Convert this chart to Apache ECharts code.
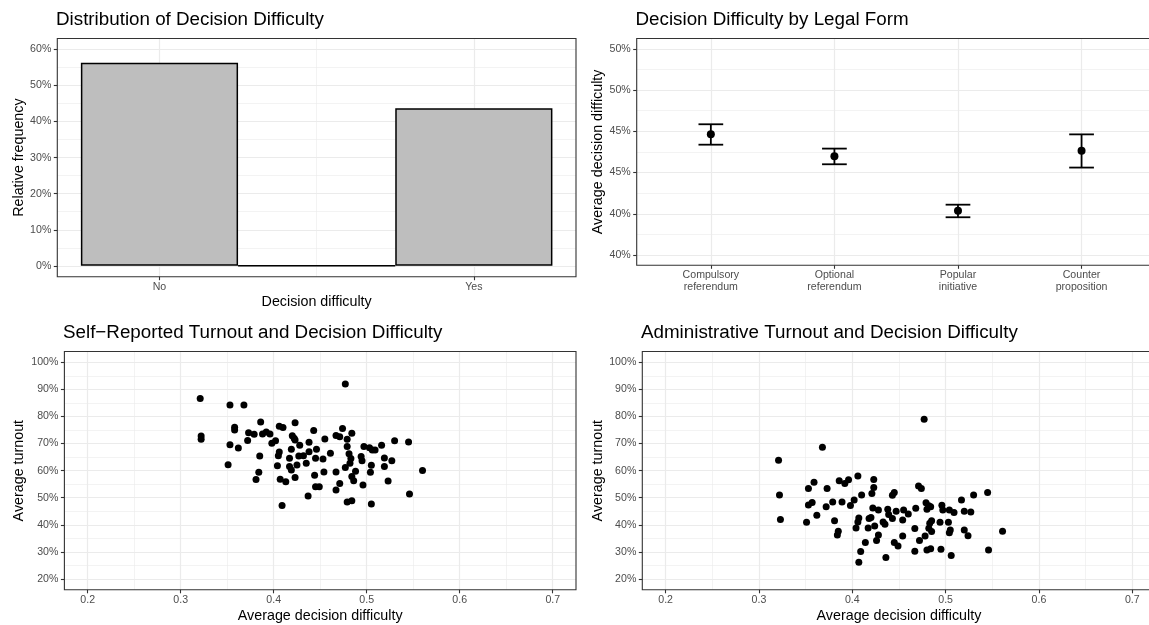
<!DOCTYPE html>
<html><head><meta charset="utf-8">
<script src="https://cdn.jsdelivr.net/npm/echarts@6/dist/echarts.min.js"></script>
<style>html,body{margin:0;padding:0;background:#fff}#c{width:1149px;height:625px}</style>
</head><body><div id="c"></div>
<script>
// ---------- Panel 1: Distribution of decision difficulty ----------
const diffBins = [0, 0.5, 1];
const diffFreq = [0.563, 0, 0.437];
const diffTickVals = [0, 1];
const diffTickLabels = ['No', 'Yes'];
const freqTickVals = [0, 0.1, 0.2, 0.3, 0.4, 0.5, 0.6];
const freqTickLabels = ['0%', '10%', '20%', '30%', '40%', '50%', '60%'];
const freqMinor = [0.05, 0.15, 0.25, 0.35, 0.45, 0.55];
const diffMinor = [0.5];

// ---------- Panel 2: Decision difficulty by legal form ----------
const formCategories = ['Compulsory\nreferendum', 'Optional\nreferendum', 'Popular\ninitiative', 'Counter\nproposition'];
const formMean  = [0.4585, 0.4479, 0.4214, 0.4506];
const formLower = [0.4535, 0.4440, 0.4183, 0.4424];
const formUpper = [0.4634, 0.4516, 0.4244, 0.4585];
const formTickVals = [0.40, 0.42, 0.44, 0.46, 0.48, 0.50];
const formTickLabels = ['40%', '40%', '45%', '45%', '50%', '50%'];
const formMinor = [0.41, 0.43, 0.45, 0.47, 0.49];

// ---------- Panels 3/4: turnout vs difficulty ----------
const selfX = [0.321,0.322,0.322,0.353,0.368,0.477,0.351,0.353,0.358,0.358,0.362,0.373,0.379,0.372,0.386,0.388,0.392,0.396,0.385,0.384,0.381,0.398,0.402,0.406,0.410,0.406,0.405,0.404,0.407,0.413,0.409,0.423,0.420,0.422,0.423,0.419,0.417,0.417,0.419,0.423,0.425,0.427,0.428,0.432,0.435,0.438,0.438,0.443,0.445,0.446,0.444,0.445,0.449,0.437,0.453,0.455,0.454,0.461,0.467,0.471,0.474,0.479,0.479,0.484,0.481,0.483,0.482,0.477,0.467,0.471,0.467,0.479,0.484,0.484,0.486,0.488,0.494,0.495,0.496,0.497,0.503,0.506,0.509,0.505,0.504,0.505,0.516,0.519,0.519,0.527,0.523,0.530,0.545,0.546,0.560];
const selfY = [0.866,0.728,0.716,0.842,0.842,0.920,0.622,0.696,0.760,0.750,0.684,0.740,0.734,0.711,0.780,0.735,0.743,0.735,0.654,0.594,0.567,0.701,0.710,0.764,0.759,0.669,0.655,0.618,0.568,0.559,0.471,0.777,0.729,0.720,0.713,0.679,0.646,0.615,0.602,0.575,0.621,0.654,0.694,0.655,0.627,0.705,0.670,0.748,0.646,0.679,0.583,0.541,0.541,0.506,0.643,0.717,0.595,0.664,0.730,0.725,0.756,0.716,0.689,0.738,0.662,0.645,0.627,0.612,0.595,0.553,0.529,0.484,0.489,0.578,0.563,0.598,0.652,0.637,0.547,0.689,0.685,0.676,0.676,0.620,0.594,0.477,0.694,0.647,0.615,0.637,0.562,0.710,0.706,0.514,0.601];
const adminX = [0.321,0.322,0.323,0.368,0.477,0.353,0.359,0.353,0.357,0.351,0.362,0.373,0.372,0.379,0.381,0.385,0.384,0.386,0.392,0.396,0.389,0.398,0.402,0.406,0.410,0.407,0.406,0.404,0.414,0.409,0.407,0.423,0.423,0.421,0.422,0.428,0.418,0.420,0.417,0.424,0.428,0.426,0.433,0.435,0.438,0.439,0.436,0.443,0.445,0.443,0.447,0.445,0.449,0.454,0.455,0.460,0.454,0.467,0.467,0.468,0.471,0.474,0.472,0.478,0.479,0.480,0.482,0.484,0.482,0.483,0.485,0.485,0.480,0.484,0.494,0.496,0.497,0.495,0.504,0.509,0.503,0.505,0.504,0.506,0.517,0.520,0.527,0.530,0.520,0.524,0.545,0.546,0.561];
const adminY = [0.638,0.510,0.420,0.686,0.790,0.534,0.557,0.473,0.482,0.409,0.435,0.534,0.467,0.484,0.415,0.376,0.362,0.563,0.553,0.566,0.484,0.471,0.492,0.580,0.510,0.425,0.410,0.388,0.335,0.301,0.262,0.567,0.538,0.516,0.462,0.455,0.423,0.427,0.388,0.396,0.362,0.342,0.410,0.402,0.457,0.438,0.279,0.509,0.519,0.423,0.450,0.335,0.322,0.418,0.455,0.440,0.359,0.302,0.386,0.461,0.543,0.534,0.342,0.359,0.481,0.457,0.470,0.467,0.387,0.406,0.415,0.375,0.307,0.312,0.409,0.472,0.455,0.310,0.455,0.445,0.409,0.381,0.371,0.287,0.492,0.450,0.447,0.510,0.381,0.360,0.519,0.307,0.376];
const ddTickVals = [0.2, 0.3, 0.4, 0.5, 0.6, 0.7];
const ddTickLabels = ['0.2', '0.3', '0.4', '0.5', '0.6', '0.7'];
const ddMinor = [0.25, 0.35, 0.45, 0.55, 0.65];
const toTickVals = [0.2, 0.3, 0.4, 0.5, 0.6, 0.7, 0.8, 0.9, 1.0];
const toTickLabels = ['20%', '30%', '40%', '50%', '60%', '70%', '80%', '90%', '100%'];
const toMinor = [0.25, 0.35, 0.45, 0.55, 0.65, 0.75, 0.85, 0.95];

// ---------- styling helpers ----------
const FONT = '"Liberation Sans", Arial, Helvetica, sans-serif';
const TICK_COLOR = '#4D4D4D';
const GRID_COLOR = '#EBEBEB';

function labelFor(vals, labels) {
  return function (v) {
    let best = 0, d = Infinity;
    vals.forEach((t, i) => { const dd = Math.abs(t - v); if (dd < d) { d = dd; best = i; } });
    return labels[best];
  };
}
function makeGrid(left, top, width, height) {
  return { left, top, width, height, show: true, borderColor: '#333333', borderWidth: 1.1,
           backgroundColor: 'transparent', z: 10, containLabel: false, outerBoundsMode: 'none' };
}
function makeAxis(kind, idx, min, max, vals, labels, name, nameGap, extraLabel) {
  return {
    type: 'value', gridIndex: idx, min, max, scale: true,
    position: kind === 'x' ? 'bottom' : 'left',
    axisLine: { show: false, onZero: false },
    splitLine: { show: false },
    axisTick: { show: true, length: 3.5, customValues: vals, lineStyle: { color: '#333333', width: 1.1 } },
    axisLabel: Object.assign({ show: true, customValues: vals, formatter: labelFor(vals, labels),
      color: TICK_COLOR, fontSize: 10.6, fontFamily: FONT, margin: kind === 'x' ? 5 : 6,
      showMinLabel: true, showMaxLabel: true, hideOverlap: false }, extraLabel || {}),
    name, nameLocation: 'middle', nameGap,
    nameTextStyle: { color: '#000', fontSize: 14.3, fontFamily: FONT }
  };
}
function gridSeries(idx, xMajor, xMinor, yMajor, yMinor) {
  const maj = { color: GRID_COLOR, width: 1.2, type: 'solid' };
  const min = { color: GRID_COLOR, width: 0.6, type: 'solid' };
  const data = [];
  xMinor.forEach(v => data.push({ xAxis: v, lineStyle: min }));
  yMinor.forEach(v => data.push({ yAxis: v, lineStyle: min }));
  xMajor.forEach(v => data.push({ xAxis: v, lineStyle: maj }));
  yMajor.forEach(v => data.push({ yAxis: v, lineStyle: maj }));
  return { type: 'scatter', xAxisIndex: idx, yAxisIndex: idx, data: [], silent: true, z: 0,
    markLine: { silent: true, z: 0, symbol: ['none', 'none'], label: { show: false }, animation: false,
      emphasis: { disabled: true }, data } };
}
function title(text, left, top) {
  return { text, left, top, padding: 0,
    textStyle: { fontSize: 18.8, fontWeight: 'normal', color: '#000', fontFamily: FONT } };
}

const formIdx = formCategories.map((c, i) => i);

const option = {
  backgroundColor: '#ffffff',
  animation: false,
  title: [
    title('Distribution of Decision Difficulty', 56, 10),
    title('Decision Difficulty by Legal Form', 635.5, 10),
    title('Self\u2212Reported Turnout and Decision Difficulty', 63, 323),
    title('Administrative Turnout and Decision Difficulty', 641, 323)
  ],
  grid: [
    makeGrid(57.3, 38.5, 518.7, 238.2),
    makeGrid(636.7, 38.5, 519, 226.8),
    makeGrid(64.4, 351.5, 511.6, 238.3),
    makeGrid(642.3, 351.5, 513.3, 238.3)
  ],
  xAxis: [
    makeAxis('x', 0, -0.325, 1.325, diffTickVals, diffTickLabels, 'Decision difficulty', 18),
    makeAxis('x', 1, -0.6, 3.6, formIdx, formCategories, '', 20, { lineHeight: 11.5, margin: 4.5 }),
    makeAxis('x', 2, 0.175, 0.725, ddTickVals, ddTickLabels, 'Average decision difficulty', 19),
    makeAxis('x', 3, 0.175, 0.725, ddTickVals, ddTickLabels, 'Average decision difficulty', 19)
  ],
  yAxis: [
    makeAxis('y', 0, -0.03, 0.63, freqTickVals, freqTickLabels, 'Relative frequency', 31),
    makeAxis('y', 1, 0.395, 0.505, formTickVals, formTickLabels, 'Average decision difficulty', 32),
    makeAxis('y', 2, 0.16, 1.04, toTickVals, toTickLabels, 'Average turnout', 38),
    makeAxis('y', 3, 0.16, 1.04, toTickVals, toTickLabels, 'Average turnout', 37)
  ],
  series: [
    gridSeries(0, diffTickVals, diffMinor, freqTickVals, freqMinor),
    gridSeries(1, formIdx, [], formTickVals, formMinor),
    gridSeries(2, ddTickVals, ddMinor, toTickVals, toMinor),
    gridSeries(3, ddTickVals, ddMinor, toTickVals, toMinor),
    {
      type: 'bar', xAxisIndex: 0, yAxisIndex: 0, z: 3, barWidth: '100%',
      data: diffBins.map((b, i) => [b, diffFreq[i]]),
      itemStyle: { color: '#BEBEBE', borderColor: '#000', borderWidth: 1.5 },
      silent: true
    },
    {
      type: 'custom', xAxisIndex: 1, yAxisIndex: 1, z: 3, silent: true,
      data: formIdx.map(i => [i, formLower[i], formUpper[i]]),
      encode: { x: 0, y: [1, 2] },
      renderItem: function (params, api) {
        const x = api.value(0), lo = api.value(1), hi = api.value(2);
        const pLo = api.coord([x, lo]), pHi = api.coord([x, hi]);
        const half = api.coord([x + 0.1, lo])[0] - pLo[0];
        const st = { stroke: '#000', lineWidth: 1.8, fill: null };
        return { type: 'group', children: [
          { type: 'line', shape: { x1: pLo[0], y1: pLo[1], x2: pHi[0], y2: pHi[1] }, style: st },
          { type: 'line', shape: { x1: pLo[0] - half, y1: pLo[1], x2: pLo[0] + half, y2: pLo[1] }, style: st },
          { type: 'line', shape: { x1: pHi[0] - half, y1: pHi[1], x2: pHi[0] + half, y2: pHi[1] }, style: st }
        ] };
      }
    },
    {
      type: 'scatter', xAxisIndex: 1, yAxisIndex: 1, z: 4, silent: true, symbolSize: 8,
      data: formIdx.map(i => [i, formMean[i]]), itemStyle: { color: '#000', opacity: 1 }
    },
    {
      type: 'scatter', xAxisIndex: 2, yAxisIndex: 2, z: 4, silent: true, symbolSize: 7,
      data: selfX.map((x, i) => [x, selfY[i]]), itemStyle: { color: '#000', opacity: 1 }
    },
    {
      type: 'scatter', xAxisIndex: 3, yAxisIndex: 3, z: 4, silent: true, symbolSize: 7,
      data: adminX.map((x, i) => [x, adminY[i]]), itemStyle: { color: '#000', opacity: 1 }
    }
  ]
};

const chart = echarts.init(document.getElementById('c'), null, { renderer: 'canvas' });
chart.setOption(option);
</script>
</body></html>
